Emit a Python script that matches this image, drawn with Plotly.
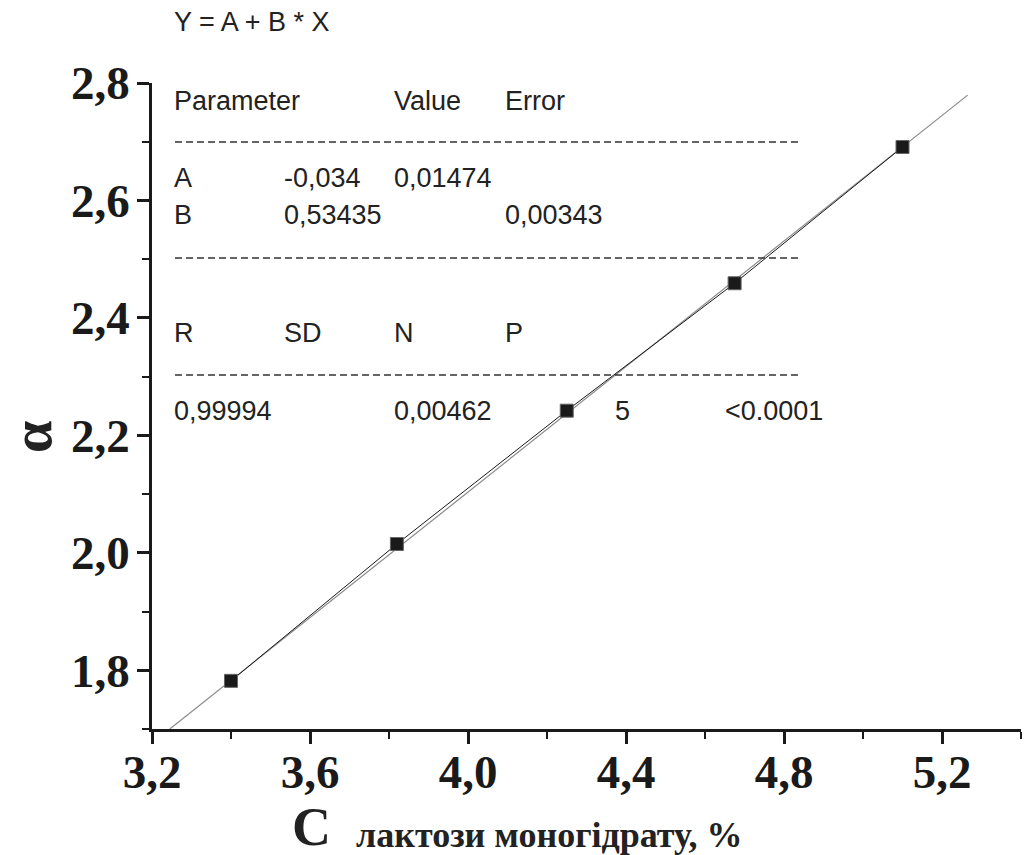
import plotly.graph_objects as go

# ---- data ----
conc = [3.40, 3.82, 4.25, 4.675, 5.10]          # C lactose monohydrate, %
alpha = [1.782, 2.015, 2.242, 2.459, 2.691]     # optical rotation

fit_A = -0.034
fit_B = 0.53435
fit_x = [3.245, 5.265]
fit_y = [fit_A + fit_B * v for v in fit_x]

x_ticks = [3.2, 3.6, 4.0, 4.4, 4.8, 5.2]
y_ticks = [1.8, 2.0, 2.2, 2.4, 2.6, 2.8]

equation = "Y = A + B * X"
table_rows = [
    ["Parameter", "", "Value", "Error", "", ""],
    ["A", "-0,034", "0,01474", "", "", ""],
    ["B", "0,53435", "", "0,00343", "", ""],
    ["R", "SD", "N", "P", "", ""],
    ["0,99994", "", "0,00462", "", "5", "<0.0001"],
]

# ---- layout helpers (pixel -> paper coords) ----
L, T, W, H = 152, 83, 869, 646
XR = [3.2, 5.4]
YR = [1.7, 2.8]


def px2px(px):
    return (px - L) / W


def py2py(py):
    return (T + H - py) / H


col_px = [172, 282, 392, 503, 613, 723]
row_py = [101, 178, 215, 333, 411]
dash_py = [142, 258, 375]

fig = go.Figure()

fig.add_trace(go.Scatter(
    x=fit_x, y=fit_y, mode="lines",
    line=dict(color="#8a8a8a", width=1.2),
    showlegend=False, hoverinfo="skip",
))
fig.add_trace(go.Scatter(
    x=conc, y=alpha, mode="lines",
    line=dict(color="#1a1a1a", width=1),
    showlegend=False, hoverinfo="skip",
))
fig.add_trace(go.Scatter(
    x=conc, y=alpha, mode="markers",
    marker=dict(symbol="square", size=13, color="#1a1a1a",
                line=dict(color="#666666", width=1)),
    showlegend=False,
))

tfont = dict(family="Liberation Sans, Arial", size=27, color="#222222")
annotations = [dict(
    x=px2px(172), y=py2py(22), xref="paper", yref="paper", text=equation,
    showarrow=False, xanchor="left", yanchor="middle", font=tfont,
)]
for r, row in enumerate(table_rows):
    for c, txt in enumerate(row):
        if not txt:
            continue
        annotations.append(dict(
            x=px2px(col_px[c]), y=py2py(row_py[r]), xref="paper", yref="paper",
            text=txt, showarrow=False, xanchor="left", yanchor="middle",
            font=tfont,
        ))

# axis titles
annotations.append(dict(
    x=px2px(31), y=py2py(437), xref="paper", yref="paper",
    text="α", textangle=-90, showarrow=False,
    font=dict(family="Liberation Serif, Times New Roman", size=58,
              color="#222222", weight="bold"),
    xanchor="center", yanchor="middle",
))
annotations.append(dict(
    x=px2px(311), y=py2py(827), xref="paper", yref="paper",
    text="C", showarrow=False, height=50, valign="middle",
    font=dict(family="Liberation Serif, Times New Roman", size=54,
              color="#222222", weight="bold"),
    xanchor="center", yanchor="middle",
))
annotations.append(dict(
    x=px2px(354), y=py2py(835), xref="paper", yref="paper",
    text="лактози моногідрату, %", showarrow=False,
    font=dict(family="Liberation Serif, Times New Roman", size=36,
              color="#222222", weight="bold"),
    xanchor="left", yanchor="middle",
))

shapes = []
for py in dash_py:
    shapes.append(dict(
        type="line", xref="paper", yref="paper",
        x0=px2px(175), x1=px2px(800), y0=py2py(py), y1=py2py(py),
        line=dict(color="#333333", width=1.5, dash="7px,4px"),
    ))

tickfont = dict(family="Liberation Serif, Times New Roman", size=47,
                color="#1a1a1a", weight="bold")

fig.update_layout(
    width=1024, height=855,
    margin=dict(l=L, r=1024 - L - W, t=T, b=855 - T - H),
    paper_bgcolor="white", plot_bgcolor="white",
    separators=", ",
    annotations=annotations, shapes=shapes,
    xaxis=dict(
        range=XR, tickvals=x_ticks, tickformat=".1f",
        showgrid=False, zeroline=False,
        showline=True, linecolor="#1a1a1a", linewidth=2.5,
        ticks="outside", ticklen=12, tickwidth=2.5, tickcolor="#1a1a1a",
        minor=dict(dtick=0.2, tick0=3.2, ticks="outside", ticklen=7,
                   tickwidth=2, tickcolor="#1a1a1a"),
        tickfont=tickfont, ticklabelstandoff=-12,
    ),
    yaxis=dict(
        range=YR, tickvals=y_ticks, tickformat=".1f",
        showgrid=False, zeroline=False,
        showline=True, linecolor="#1a1a1a", linewidth=2.5,
        ticks="outside", ticklen=12, tickwidth=2.5, tickcolor="#1a1a1a",
        minor=dict(dtick=0.1, tick0=1.7, ticks="outside", ticklen=7,
                   tickwidth=2, tickcolor="#1a1a1a"),
        tickfont=tickfont, ticklabelstandoff=-2,
    ),
)

fig.write_html("out.html", config={"displayModeBar": False},
               post_script="document.body.style.margin='0';")
